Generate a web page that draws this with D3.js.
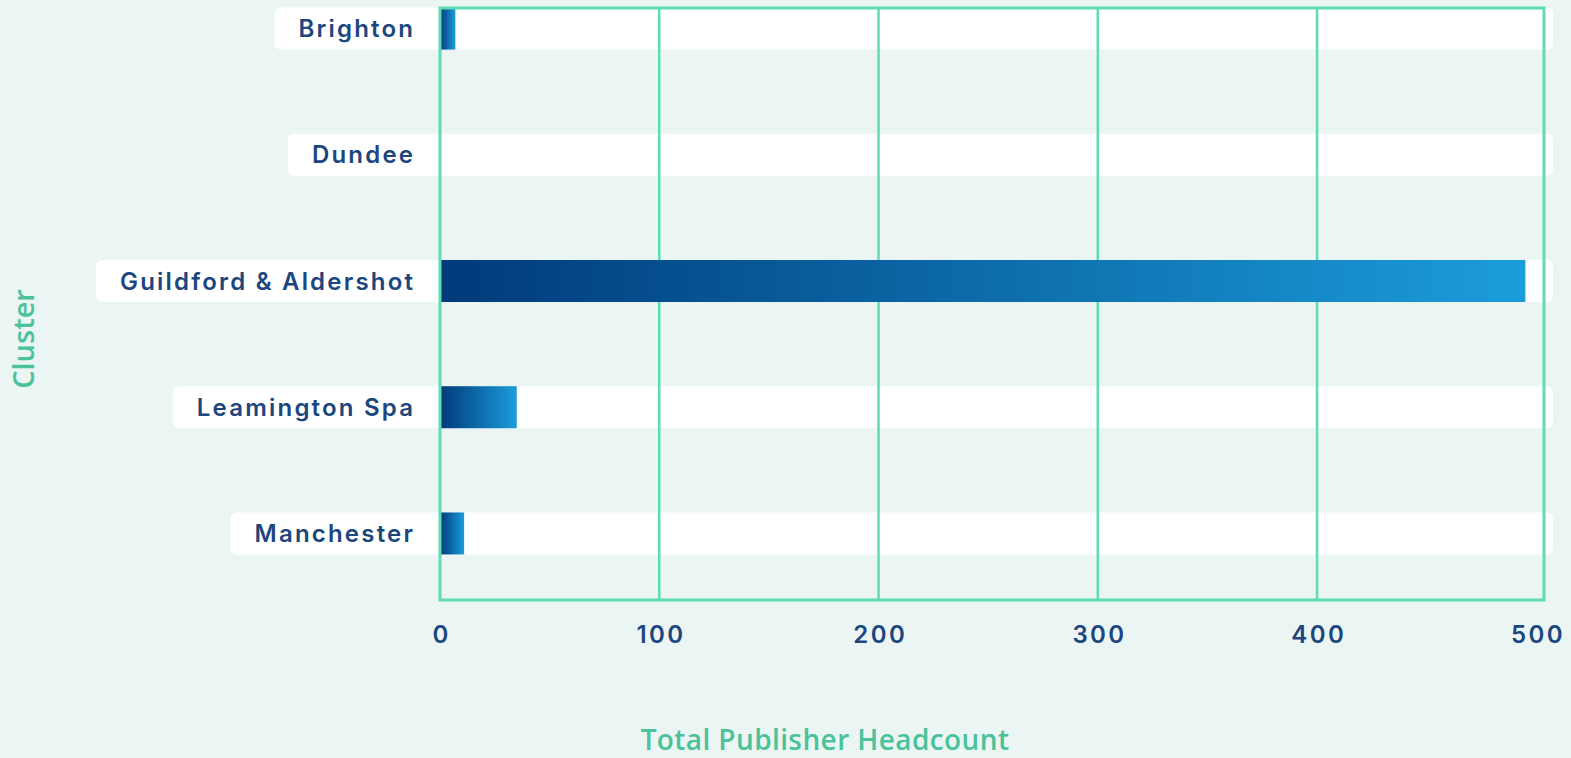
<!DOCTYPE html>
<html><head><meta charset="utf-8">
<script src="https://cdn.jsdelivr.net/npm/d3@7"></script>
<style>
html,body{margin:0;padding:0;background:#ebf6f4;}
svg{display:block;}
</style></head>
<body><svg id="c" width="1571" height="758"></svg>
<script>
const categories = ["Brighton","Dundee","Guildford & Aldershot","Leamington Spa","Manchester"];
const headcount = [7, 0, 495, 35, 11];
const xTicks = [0, 100, 200, 300, 400, 500];
const xTitle = "Total Publisher Headcount";
const yTitle = "Cluster";

const svg = d3.select("#c");
const W = 1571, H = 758;
svg.append("rect").attr("width", W).attr("height", H).attr("fill", "#ebf6f4");

const pLeft = 440, pRight = 1544, pTop = 8, pBottom = 600;
const x = d3.scaleLinear().domain([0, 503.5]).range([pLeft, pRight]);
const y = d3.scaleBand().domain(categories).range([-34.5, 596.5]).paddingInner(0.667).paddingOuter(0.333);

const defs = svg.append("defs");
const grad = defs.append("linearGradient").attr("id","barGrad")
  .attr("x1","0").attr("x2","1").attr("y1","0").attr("y2","0");
grad.append("stop").attr("offset","0%").attr("stop-color","#003a7a");
grad.append("stop").attr("offset","100%").attr("stop-color","#1b9dda");

const labelFont = "Inter, 'Open Sans', sans-serif";
const labelColor = "#1c467e";
const ls = 2.2;

// row bands + label backgrounds
const rows = svg.append("g");
categories.forEach((c, i) => {
  const yy = y(c), bh = y.bandwidth();
  const t = rows.append("text")
    .attr("x", pLeft - 27 + ls).attr("y", yy + bh/2)
    .attr("text-anchor","end").attr("dominant-baseline","central")
    .attr("font-family", labelFont).attr("font-weight", 600).attr("font-size", 24)
    .attr("letter-spacing", ls)
    .attr("fill", labelColor).text(c);
  const bb = t.node().getBBox();
  rows.insert("rect", "text")
    .attr("x", bb.x - 24).attr("y", yy)
    .attr("width", 1553 - (bb.x - 24)).attr("height", bh)
    .attr("rx", 6).attr("fill", "#ffffff");
});

// grid lines
const grid = svg.append("g");
grid.selectAll("line").data(xTicks.slice(1, -1)).join("line")
  .attr("x1", d => x(d)).attr("x2", d => x(d))
  .attr("y1", pTop).attr("y2", pBottom)
  .attr("stroke", "#5fdcb4").attr("stroke-width", 2.5);

// bars
svg.append("g").selectAll("rect").data(categories).join("rect")
  .attr("x", x(0)).attr("y", d => y(d))
  .attr("width", (d, i) => x(headcount[i]) - x(0))
  .attr("height", y.bandwidth())
  .attr("fill", "url(#barGrad)");

// plot border
svg.append("rect").attr("x", pLeft).attr("y", pTop)
  .attr("width", pRight - pLeft).attr("height", pBottom - pTop)
  .attr("fill", "none").attr("stroke", "#5fdcb4").attr("stroke-width", 3);

// x axis ticks
const xAxis = d3.axisBottom(x).tickValues(xTicks).tickSize(0).tickPadding(0);
const gx = svg.append("g").attr("transform", `translate(0, ${pBottom})`).call(xAxis);
gx.select(".domain").remove();
gx.selectAll("text")
  .attr("y", 35).attr("dy", "0.35em").attr("dx", 1.2)
  .attr("font-family", labelFont).attr("font-weight", 600).attr("font-size", 24)
  .attr("letter-spacing", 2.4)
  .attr("fill", labelColor);

// axis titles
svg.append("text").attr("x", 825).attr("y", 750).attr("text-anchor","middle")
  .attr("font-family", "'Open Sans', sans-serif").attr("font-weight", 600).attr("font-size", 28)
  .attr("letter-spacing", 0.4)
  .attr("fill", "#4cc29a").text(xTitle);
svg.append("text").attr("transform", "translate(22, 339) rotate(-90)")
  .attr("text-anchor","middle").attr("dominant-baseline","central")
  .attr("font-family", "'Open Sans', sans-serif").attr("font-weight", 600).attr("font-size", 29)
  .attr("fill", "#4cc29a").text(yTitle);
</script>
</body></html>
